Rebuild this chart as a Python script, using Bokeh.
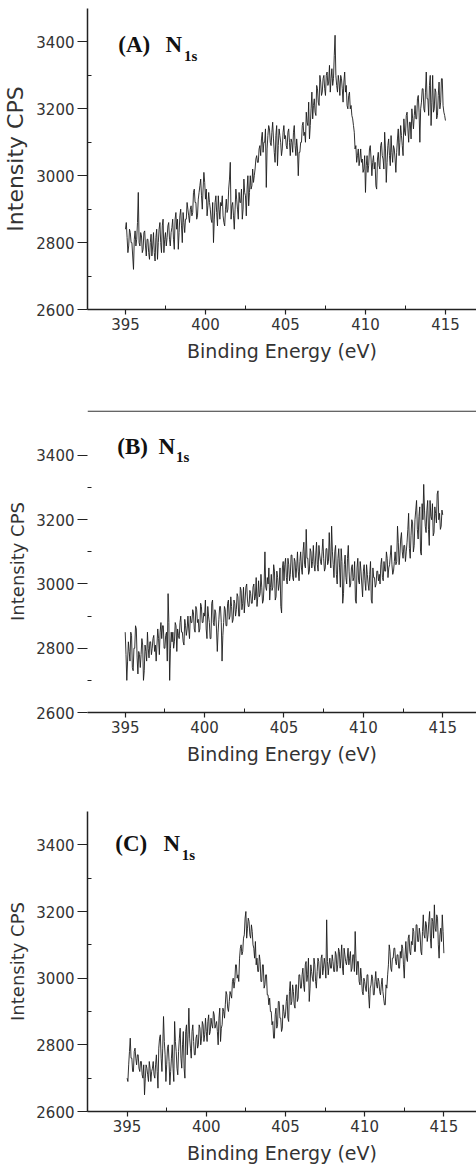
from bokeh.plotting import figure
from bokeh.models import Range1d, FixedTicker, Label, Span
from bokeh.layouts import column
from bokeh.embed import file_html
from bokeh.resources import INLINE

# Panel (A) N1s intensity (CPS), 395.00 .. 415.00 eV in 0.05 eV steps
intensity_a = [
    2840, 2860, 2815, 2770, 2790, 2840, 2830, 2800, 2800, 2760, 2720, 2810, 2835, 2790, 2810, 2860, 2950, 2800, 2790, 2830,
    2820, 2770, 2780, 2830, 2835, 2790, 2760, 2810, 2810, 2770, 2750, 2800, 2825, 2760, 2790, 2830, 2770, 2745, 2815, 2840,
    2750, 2800, 2840, 2860, 2800, 2770, 2850, 2870, 2770, 2810, 2830, 2790, 2815, 2850, 2860, 2810, 2790, 2830, 2845, 2870,
    2810, 2780, 2870, 2890, 2840, 2870, 2780, 2830, 2880, 2900, 2850, 2800, 2890, 2860, 2830, 2870, 2870, 2920, 2900, 2880,
    2860, 2900, 2910, 2880, 2890, 2950, 2960, 2920, 2920, 2870, 2880, 2930, 2950, 2970, 2990, 2940, 2900, 2960, 3010, 2980,
    2930, 2960, 2880, 2910, 2950, 2920, 2900, 2870, 2860, 2920, 2800, 2870, 2920, 2940, 2890, 2850, 2940, 2900, 2870, 2920,
    2910, 2940, 2880, 2860, 2850, 2900, 2930, 2890, 2900, 2960, 2990, 3040, 2870, 2910, 2920, 2880, 2840, 2900, 2960, 2930,
    2900, 2870, 2950, 2920, 2920, 2960, 2870, 2900, 2990, 2950, 2940, 2880, 2960, 3000, 2910, 2950, 3000, 2960, 2970, 3020,
    2980, 3000, 3020, 3050, 3060, 3040, 3040, 3080, 3090, 3060, 3110, 3130, 3070, 3100, 3100, 3140, 2965, 3080, 3120, 3150,
    3140, 3100, 3090, 3130, 3160, 3110, 3070, 3040, 3120, 3150, 3030, 3090, 3140, 3120, 3100, 3060, 3080, 3130, 3150, 3110,
    3120, 3090, 3080, 3130, 3140, 3100, 3060, 3110, 3100, 3070, 3130, 3150, 3090, 3060, 3110, 3080, 3000, 3070, 3070, 3100,
    3100, 3150, 3160, 3120, 3130, 3100, 3190, 3160, 3150, 3220, 3110, 3150, 3200, 3250, 3170, 3210, 3230, 3190, 3180, 3270,
    3260, 3220, 3210, 3300, 3280, 3240, 3250, 3290, 3300, 3260, 3240, 3300, 3310, 3270, 3280, 3330, 3250, 3290, 3320, 3270,
    3290, 3360, 3420, 3300, 3270, 3250, 3300, 3280, 3240, 3300, 3290, 3260, 3220, 3280, 3310, 3250, 3270, 3210, 3200, 3240,
    3250, 3200, 3210, 3180, 3170, 3150, 3130, 3080, 3090, 3040, 3060, 3080, 3030, 3050, 3080, 3040, 3050, 3010, 3020, 3060,
    2950, 3030, 3060, 3010, 3030, 3080, 3090, 3050, 3000, 3040, 3060, 3020, 3040, 2970, 2960, 3050, 3070, 3030, 3020, 3090,
    3100, 3060, 3050, 3020, 3130, 3080, 2980, 3040, 3090, 3110, 3060, 3030, 3120, 3070, 3040, 3090, 3080, 3050, 3010, 3070,
    3110, 3140, 3060, 3100, 3150, 3120, 3090, 3060, 3170, 3130, 3120, 3180, 3190, 3140, 3100, 3160, 3160, 3110, 3200, 3170,
    3140, 3180, 3210, 3170, 3170, 3230, 3240, 3190, 3100, 3200, 3220, 3260, 3260, 3200, 3190, 3250, 3310, 3230, 3230, 3180,
    3270, 3300, 3150, 3220, 3300, 3190, 3200, 3260, 3250, 3170, 3180, 3240, 3280, 3200, 3220, 3290, 3290, 3210, 3190, 3180,
    3165,
]

# Panel (B) N1s intensity (CPS)
intensity_b = [
    2850, 2780, 2700, 2760, 2820, 2790, 2760, 2850, 2840, 2740, 2730, 2800, 2800, 2870, 2860, 2770, 2720, 2790, 2780, 2740,
    2780, 2830, 2810, 2700, 2730, 2810, 2790, 2760, 2850, 2800, 2770, 2820, 2820, 2780, 2800, 2830, 2840, 2790, 2810, 2760,
    2810, 2860, 2830, 2780, 2850, 2880, 2830, 2870, 2870, 2800, 2800, 2840, 2850, 2760, 2970, 2880, 2700, 2800, 2850, 2820,
    2850, 2800, 2820, 2880, 2870, 2790, 2860, 2840, 2830, 2880, 2900, 2850, 2850, 2820, 2810, 2890, 2870, 2840, 2860, 2900,
    2860, 2830, 2900, 2880, 2880, 2920, 2910, 2860, 2850, 2930, 2920, 2880, 2890, 2850, 2860, 2940, 2930, 2880, 2880, 2910,
    2900, 2950, 2860, 2830, 2930, 2900, 2880, 2830, 2830, 2940, 2950, 2880, 2870, 2920, 2910, 2860, 2790, 2850, 2890, 2930,
    2930, 2880, 2760, 2840, 2880, 2930, 2920, 2870, 2870, 2940, 2950, 2890, 2900, 2960, 2930, 2880, 2890, 2950, 2940, 2900,
    2920, 2970, 2960, 2900, 2900, 2990, 2980, 2920, 2940, 2990, 2910, 2950, 2990, 3000, 2950, 2930, 2930, 2980, 2970, 2940,
    2940, 2990, 3000, 2950, 2960, 3020, 2930, 2960, 3010, 2960, 2970, 3030, 2990, 2940, 2950, 3000, 3100, 2990, 2980, 3020,
    3000, 3050, 2950, 2990, 3030, 2980, 2990, 3060, 3040, 2950, 2960, 3040, 3020, 2980, 3000, 3050, 2930, 2910, 3050, 3070,
    3010, 3060, 3080, 3020, 3000, 3080, 3060, 3010, 3030, 3090, 3090, 3020, 3010, 3080, 3070, 3020, 3050, 3100, 3040, 3010,
    3070, 3100, 3050, 3030, 3100, 3130, 3060, 3050, 3170, 3080, 3080, 3030, 3040, 3110, 3100, 3050, 3070, 3120, 3060, 3040,
    3090, 3130, 3060, 3040, 3120, 3090, 3070, 3060, 3100, 3140, 3080, 3040, 3050, 3110, 3110, 3060, 3070, 3160, 3090, 3050,
    3180, 3100, 3060, 3020, 3100, 3120, 3030, 3000, 3080, 3110, 3050, 2990, 3110, 3070, 2940, 2970, 3060, 3090, 3020, 3000,
    3080, 3120, 3040, 2990, 3000, 3050, 3060, 3010, 3020, 3070, 2950, 2940, 3050, 3080, 3010, 3000, 3070, 3040, 3000, 2960,
    3040, 3060, 3010, 2980, 3060, 3030, 3000, 2980, 3030, 3070, 2950, 2940, 3050, 3020, 3020, 2990, 3000, 3040, 3040, 3010,
    3030, 3000, 3060, 3080, 3020, 3010, 3070, 3040, 3040, 3100, 3080, 3020, 3050, 3060, 3090, 3120, 3060, 3030, 3040, 3070,
    3100, 3060, 3070, 3180, 3130, 3060, 3090, 3140, 3160, 3100, 3080, 3120, 3120, 3070, 3100, 3130, 3170, 3220, 3110, 3080,
    3150, 3200, 3190, 3100, 3120, 3200, 3230, 3260, 3170, 3140, 3210, 3240, 3100, 3090, 3250, 3200, 3310, 3230, 3180, 3160,
    3230, 3260, 3170, 3120, 3260, 3210, 3200, 3250, 3150, 3160, 3240, 3220, 3190, 3280, 3290, 3200, 3220, 3170, 3180, 3230,
    3215,
]

# Panel (C) N1s intensity (CPS)
intensity_c = [
    2700, 2690, 2740, 2780, 2820, 2760, 2760, 2720, 2720, 2780, 2790, 2760, 2740, 2770, 2770, 2730, 2720, 2750, 2750, 2710,
    2700, 2740, 2650, 2700, 2740, 2730, 2710, 2690, 2750, 2730, 2690, 2720, 2730, 2750, 2710, 2700, 2740, 2770, 2720, 2670,
    2790, 2820, 2830, 2760, 2720, 2790, 2885, 2810, 2770, 2690, 2740, 2790, 2800, 2750, 2680, 2720, 2760, 2800, 2730, 2690,
    2870, 2810, 2780, 2730, 2710, 2780, 2820, 2850, 2760, 2730, 2800, 2840, 2730, 2700, 2840, 2860, 2770, 2830, 2910, 2820,
    2790, 2760, 2840, 2860, 2810, 2770, 2770, 2820, 2830, 2790, 2800, 2860, 2850, 2800, 2820, 2870, 2860, 2810, 2830, 2880,
    2840, 2810, 2870, 2890, 2830, 2840, 2880, 2860, 2850, 2900, 2890, 2850, 2860, 2870, 2840, 2800, 2880, 2910, 2810, 2850,
    2860, 2910, 2900, 2880, 2920, 2960, 2950, 2910, 2900, 2930, 2960, 2950, 2940, 2990, 3000, 2970, 2990, 3040, 3040, 3000,
    3010, 2990, 3060, 3090, 3100, 3070, 3080, 3120, 3130, 3180, 3200, 3120, 3150, 3180, 3170, 3130, 3120, 3160, 3140, 3100,
    3090, 3060, 3110, 3040, 3060, 3020, 3020, 3070, 3050, 2990, 2990, 3040, 3040, 2970, 2980, 3010, 3010, 2950, 2950, 2920,
    2940, 2900, 2900, 2860, 2870, 2820, 2820, 2890, 2910, 2850, 2860, 2930, 2930, 2880, 2880, 2840, 2850, 2920, 2900, 2880,
    2890, 2930, 2950, 2880, 2870, 2960, 2990, 2920, 2930, 2980, 2960, 2920, 2910, 2980, 2980, 2930, 2940, 3010, 3010, 2970,
    2970, 3010, 3030, 2980, 2960, 3040, 3050, 2990, 3010, 3060, 2930, 2970, 3040, 3020, 3000, 2990, 3060, 3040, 2990, 2970,
    3020, 3060, 3050, 3000, 3000, 3060, 3070, 3010, 3030, 3060, 3040, 3000, 3175, 3050, 3010, 3040, 3060, 3030, 3030, 3070,
    3050, 3020, 3020, 3080, 3070, 3020, 3040, 3090, 3080, 3030, 3060, 3100, 3030, 3010, 3090, 3070, 3050, 3040, 3060, 3090,
    3040, 3060, 3080, 3020, 3030, 3070, 3070, 3020, 3140, 3060, 3010, 3050, 3050, 2990, 2980, 3030, 3000, 2960, 2950, 3000,
    2990, 2970, 2960, 3010, 3010, 2950, 2910, 2970, 2980, 3010, 3000, 2950, 2950, 2990, 3020, 2980, 2970, 3000, 2990, 2960,
    2950, 2980, 3000, 2960, 2940, 2920, 2920, 2980, 2970, 3010, 3040, 3100, 3080, 3030, 3020, 3060, 3060, 3090, 3090, 3050,
    3040, 3070, 3070, 3030, 3030, 3080, 3060, 3100, 3090, 3040, 3000, 3070, 3110, 3060, 3050, 3120, 3130, 3080, 3070, 3110,
    3100, 3150, 3140, 3080, 3080, 3160, 3160, 3110, 3110, 3150, 3130, 3080, 3070, 3140, 3190, 3130, 3120, 3170, 3160, 3110,
    3130, 3170, 3200, 3120, 3090, 3180, 3170, 3120, 3220, 3150, 3140, 3190, 3180, 3100, 3060, 3130, 3150, 3110, 3190, 3140,
    3075,
]

# Binding energy grid (eV): 0.05 eV sampling starting at 395 eV
energy_a = [round(395 + 0.05 * i, 2) for i in range(len(intensity_a))]
energy_b = [round(395 + 0.05 * i, 2) for i in range(len(intensity_b))]
energy_c = [round(395 + 0.05 * i, 2) for i in range(len(intensity_c))]

x_major = [395, 400, 405, 410, 415]
x_minor = [392.5, 397.5, 402.5, 407.5, 412.5, 417.5]
y_major = [2600, 2800, 3000, 3200, 3400]
y_minor = [2700, 2900, 3100, 3300]
panel_letters = ["(A)", "(B)", "(C)"]

AX = "#222222"
TXT = "#333333"


def panel(x, y, letter, width, height, left, top, bottom, xr, yr,
          lab, ylab_size, yaxis_line=True):
    p = figure(width=width, height=height, output_backend="svg",
               toolbar_location=None, x_range=Range1d(*xr), y_range=Range1d(*yr),
               min_border_left=left, min_border_top=top,
               min_border_bottom=bottom, min_border_right=0)
    p.outline_line_color = None
    p.grid.visible = False
    p.background_fill_color = "white"
    p.border_fill_color = "white"
    p.line(x, y, line_color="#1c1c1c", line_width=0.9)

    xa = p.xaxis[0]
    xa.ticker = FixedTicker(ticks=x_major, minor_ticks=x_minor)
    xa.axis_label = "Binding Energy (eV)"
    ya = p.yaxis[0]
    ya.ticker = FixedTicker(ticks=y_major, minor_ticks=y_minor)
    ya.axis_label = "Intensity CPS"
    for a in (xa, ya):
        a.axis_line_color = AX
        a.axis_line_width = 1.5
        a.major_tick_line_color = AX
        a.minor_tick_line_color = AX
        a.major_tick_line_width = 1.2
        a.major_label_text_font = "DejaVu Sans"
        a.major_label_text_font_size = "15px"
        a.major_label_text_color = TXT
        a.axis_label_text_font = "DejaVu Sans"
        a.axis_label_text_font_style = "normal"
        a.axis_label_text_color = TXT
        a.minor_tick_in = 4
        a.minor_tick_out = 0
    xa.major_tick_out = 5
    xa.major_tick_in = 0
    xa.major_label_standoff = 3
    xa.axis_label_standoff = 7
    xa.axis_label_text_font_size = "19px"
    ya.major_tick_out = 10
    ya.major_tick_in = 0
    ya.major_label_standoff = 3
    ya.axis_label_standoff = 5
    ya.axis_label_text_font_size = ylab_size
    if not yaxis_line:
        ya.axis_line_color = None

    # panel title: (X) N_1s
    lx, ly, nx, sx, sy = lab
    p.add_layout(Label(x=lx, y=ly, text=letter, text_font="Liberation Serif",
                       text_font_style="bold", text_font_size="23px",
                       text_color="#111111"))
    p.add_layout(Label(x=nx, y=ly, text="N", text_font="Liberation Serif",
                       text_font_style="bold", text_font_size="23px",
                       text_color="#111111"))
    p.add_layout(Label(x=sx, y=sy, text="1s", text_font="Liberation Serif",
                       text_font_style="bold", text_font_size="15px",
                       text_color="#111111"))
    return p


pa = panel(energy_a, intensity_a, panel_letters[0], 476, 400, 87, 8, 91,
           (392.625, 416.94), (2600, 3500),
           (394.55, 3354, 397.5, 398.65, 3334), "22px")
pb = panel(energy_b, intensity_b, panel_letters[1], 476, 400, 84, 10, 88,
           (392.625, 417.125), (2600, 3540),
           (394.5, 3390, 397.1, 398.2, 3370), "18px", yaxis_line=False)
pb.add_layout(Span(location=3538, dimension="width", line_color="#333333",
                   line_width=1.3))
pc = panel(energy_c, intensity_c, panel_letters[2], 476, 366, 83, 11, 54,
           (392.5, 417.06), (2600, 3500),
           (394.25, 3368, 397.3, 398.45, 3346), "18px")

layout = column(pa, pb, pc, spacing=0)
open("out.html", "w").write(file_html(layout, INLINE))
